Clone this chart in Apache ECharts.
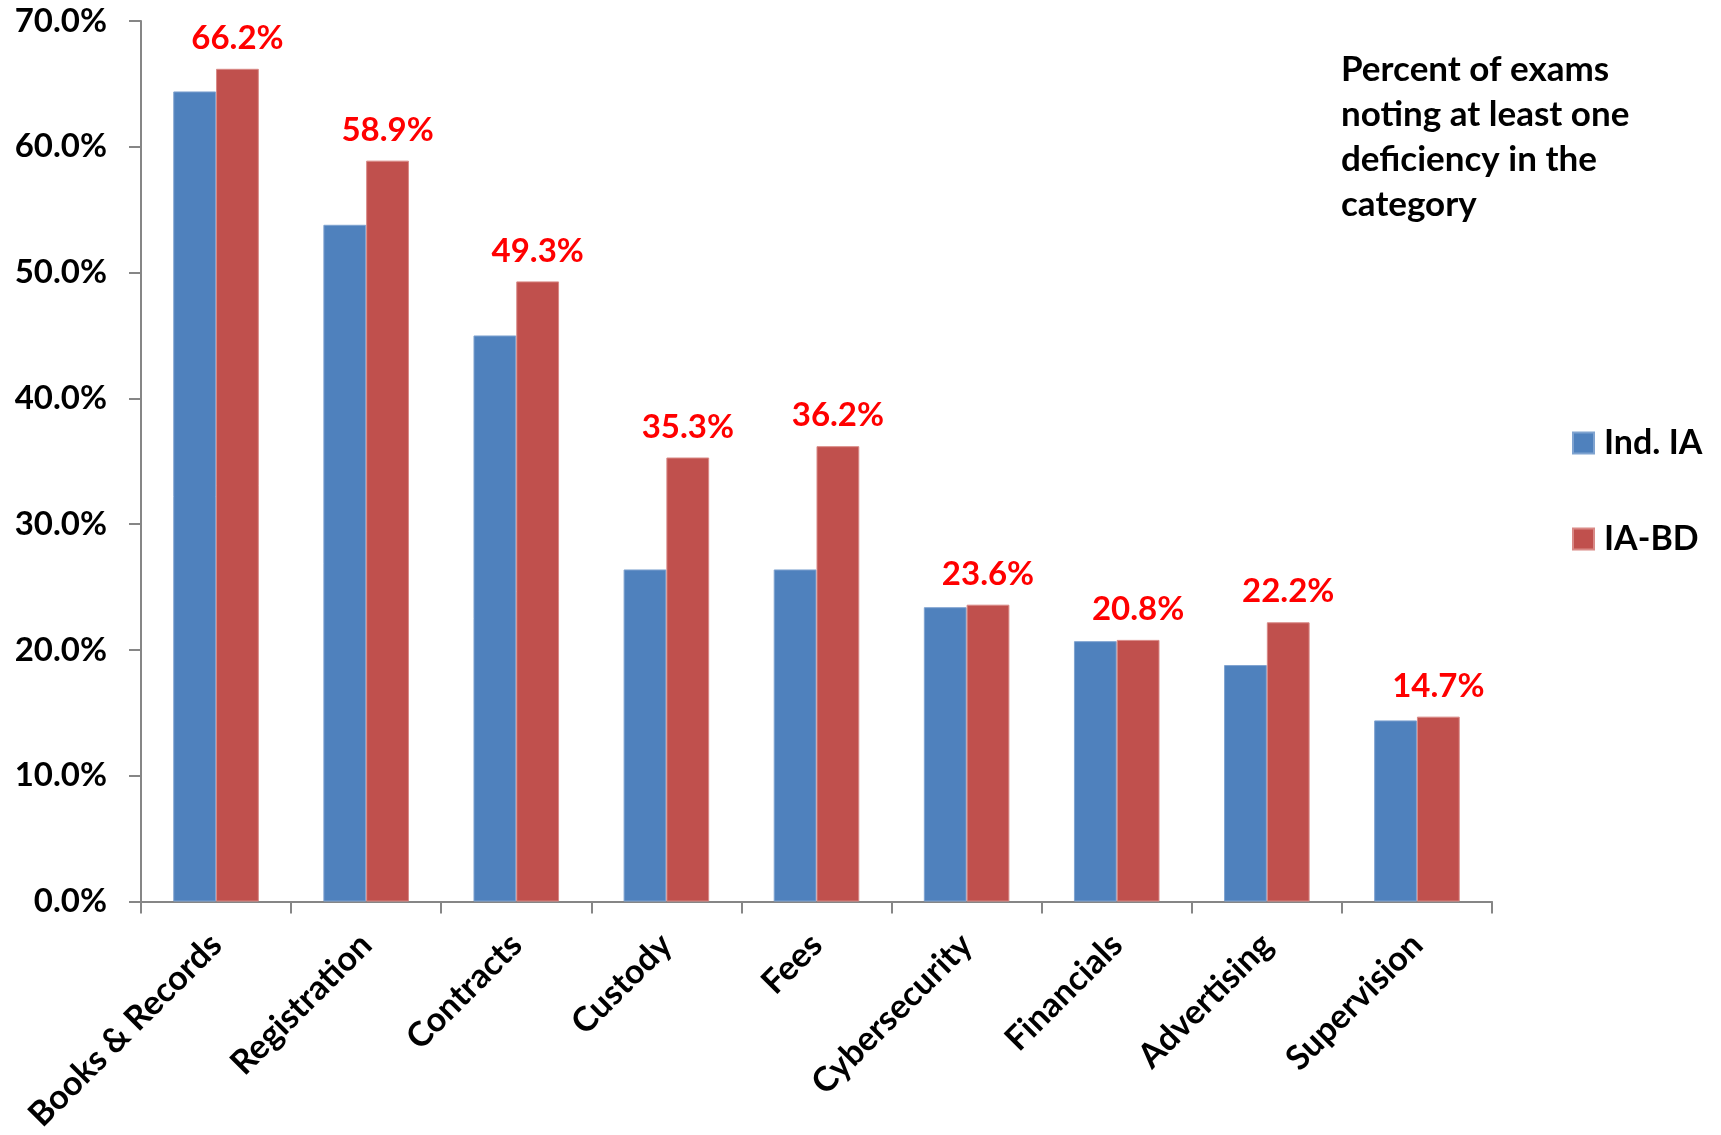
<!DOCTYPE html>
<html>
<head>
<meta charset="utf-8">
<title>Exam deficiencies by category</title>
<script src="https://cdn.jsdelivr.net/npm/echarts@6/dist/echarts.min.js"></script>
<style>
  html, body { margin: 0; padding: 0; background: #ffffff; }
  #chart { width: 1721px; height: 1135px; }
</style>
</head>
<body>
<div id="chart"></div>
<script>
// Deficiency categories, in chart order
const categories = ['Books & Records', 'Registration', 'Contracts', 'Custody', 'Fees',
                    'Cybersecurity', 'Financials', 'Advertising', 'Supervision'];
// Percent of exams noting at least one deficiency in the category
const indIA = [64.4, 53.8, 45.0, 26.4, 26.4, 23.4, 20.7, 18.8, 14.4];
const iaBD  = [66.2, 58.9, 49.3, 35.3, 36.2, 23.6, 20.8, 22.2, 14.7];
const seriesNames = ['Ind. IA', 'IA-BD'];
const yTicks = { min: 0, max: 70, interval: 10 };

const FONT = 'Lato, "Open Sans", sans-serif';
const AXIS_GRAY = '#868686';

const chart = echarts.init(document.getElementById('chart'), null, { renderer: 'canvas' });

chart.setOption({
  animation: false,
  backgroundColor: '#ffffff',
  textStyle: { fontFamily: FONT },
  grid: { left: 141, right: 229, top: 21, bottom: 233, containLabel: false },
  title: {
    text: 'Percent of exams\nnoting at least one\ndeficiency in the\ncategory',
    left: 1341,
    top: 47,
    padding: 0,
    textStyle: { fontFamily: FONT, fontWeight: 'bold', fontSize: 35, lineHeight: 45, color: '#000000' }
  },
  legend: {
    orient: 'vertical',
    left: 1572,
    top: 423,
    padding: 0,
    itemWidth: 21,
    itemHeight: 21,
    itemGap: 56,
    icon: 'rect',
    data: seriesNames,
    textStyle: { fontFamily: FONT, fontWeight: 'bold', fontSize: 34, lineHeight: 40, color: '#000000', padding: [0, 0, 0, 5] }
  },
  xAxis: {
    type: 'category',
    data: categories,
    boundaryGap: true,
    axisLine: { show: true, lineStyle: { color: AXIS_GRAY, width: 2 } },
    axisTick: { show: true, inside: false, length: 12, alignWithLabel: false, lineStyle: { color: AXIS_GRAY, width: 2 } },
    axisLabel: {
      interval: 0,
      rotate: 45,
      margin: 38,
      fontFamily: FONT,
      fontWeight: 'bold',
      fontSize: 34,
      color: '#000000'
    },
    splitLine: { show: false }
  },
  yAxis: {
    type: 'value',
    min: yTicks.min,
    max: yTicks.max,
    interval: yTicks.interval,
    axisLine: { show: true, lineStyle: { color: AXIS_GRAY, width: 2 } },
    axisTick: { show: true, inside: false, length: 12, lineStyle: { color: AXIS_GRAY, width: 2 } },
    axisLabel: {
      margin: 34,
      fontFamily: FONT,
      fontWeight: 'bold',
      fontSize: 33,
      color: '#000000',
      formatter: v => v.toFixed(1) + '%'
    },
    splitLine: { show: false }
  },
  series: [
    {
      name: seriesNames[0],
      type: 'bar',
      data: indIA,
      barGap: '0%',
      barCategoryGap: '43%',
      itemStyle: { color: '#4F81BD', borderColor: '#7FA3D0', borderWidth: 1 }
    },
    {
      name: seriesNames[1],
      type: 'bar',
      data: iaBD,
      barGap: '0%',
      barCategoryGap: '43%',
      itemStyle: { color: '#C0504D', borderColor: '#D98986', borderWidth: 1 },
      label: {
        show: true,
        position: 'top',
        distance: 13,
        fontFamily: FONT,
        fontWeight: 'bold',
        fontSize: 33,
        lineHeight: 35,
        color: '#FF0000',
        formatter: p => p.value.toFixed(1) + '%'
      }
    }
  ]
});
</script>
</body>
</html>
